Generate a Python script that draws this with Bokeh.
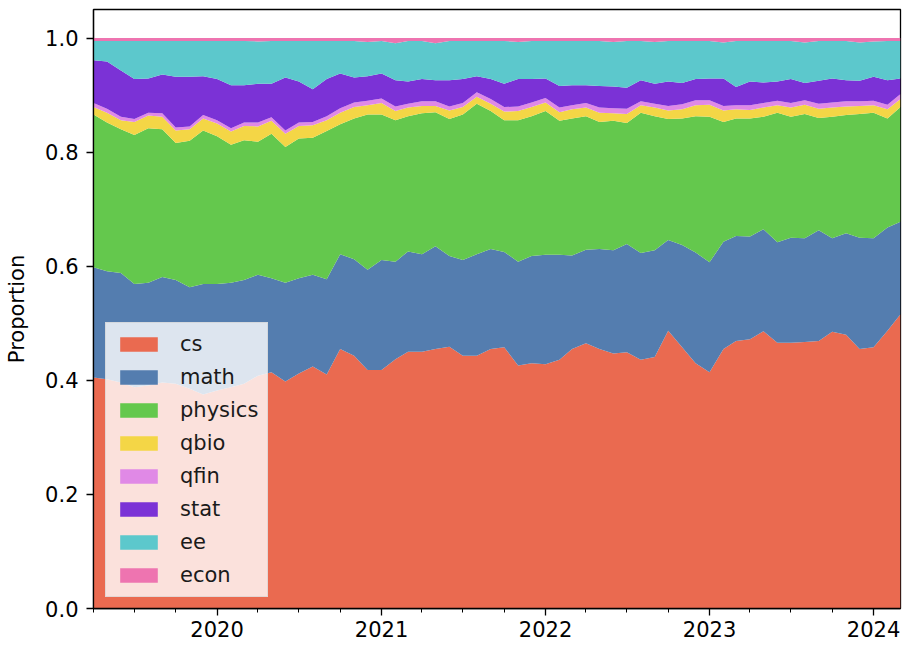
import pandas as pd
from bokeh.plotting import figure
from bokeh.models import ColumnDataSource, Range1d, FixedTicker, DatetimeTickFormatter, NumeralTickFormatter
from bokeh.embed import file_html
from bokeh.resources import INLINE

months = pd.date_range("2019-04-01", "2024-03-01", freq="MS")

categories = ["cs", "math", "physics", "qbio", "qfin", "stat", "ee", "econ"]
colors = ["#EA6A50", "#547DAF", "#64C84D", "#F4D646", "#E089E6", "#7B32D6", "#5CC8CC", "#EE74B0"]

cs = [0.405, 0.402, 0.396, 0.388, 0.391, 0.396, 0.394, 0.385, 0.375, 0.382,
      0.388, 0.394, 0.408, 0.414, 0.398, 0.412, 0.424, 0.410, 0.455, 0.443,
      0.418, 0.418, 0.437, 0.450, 0.450, 0.455, 0.459, 0.443, 0.443, 0.455,
      0.458, 0.426, 0.430, 0.428, 0.436, 0.455, 0.465, 0.455, 0.447, 0.449,
      0.436, 0.441, 0.487, 0.458, 0.430, 0.414, 0.455, 0.469, 0.472, 0.486,
      0.466, 0.466, 0.467, 0.469, 0.485, 0.480, 0.455, 0.458, 0.487, 0.516]
math = [0.193, 0.189, 0.192, 0.181, 0.180, 0.185, 0.182, 0.178, 0.194, 0.187,
        0.183, 0.182, 0.177, 0.165, 0.173, 0.167, 0.161, 0.167, 0.166, 0.169,
        0.176, 0.193, 0.171, 0.176, 0.171, 0.180, 0.159, 0.168, 0.178, 0.175,
        0.167, 0.182, 0.188, 0.192, 0.184, 0.164, 0.164, 0.175, 0.181, 0.190,
        0.187, 0.187, 0.159, 0.179, 0.194, 0.193, 0.188, 0.184, 0.180, 0.179,
        0.176, 0.184, 0.182, 0.194, 0.164, 0.178, 0.195, 0.191, 0.181, 0.162]
physics = [0.268, 0.261, 0.252, 0.261, 0.271, 0.259, 0.240, 0.257, 0.269, 0.259,
           0.242, 0.245, 0.233, 0.253, 0.238, 0.245, 0.240, 0.260, 0.228, 0.247,
           0.272, 0.255, 0.248, 0.237, 0.247, 0.235, 0.240, 0.255, 0.264, 0.242,
           0.231, 0.248, 0.245, 0.252, 0.235, 0.240, 0.234, 0.223, 0.227, 0.212,
           0.246, 0.235, 0.212, 0.222, 0.239, 0.255, 0.210, 0.206, 0.207, 0.197,
           0.227, 0.212, 0.218, 0.197, 0.213, 0.207, 0.217, 0.220, 0.191, 0.201]
qbio = [0.013, 0.017, 0.016, 0.023, 0.022, 0.022, 0.022, 0.020, 0.021, 0.022,
        0.023, 0.025, 0.027, 0.023, 0.023, 0.022, 0.022, 0.019, 0.020, 0.020,
        0.016, 0.020, 0.016, 0.015, 0.013, 0.011, 0.015, 0.013, 0.012, 0.013,
        0.015, 0.016, 0.016, 0.015, 0.015, 0.016, 0.015, 0.016, 0.013, 0.016,
        0.013, 0.015, 0.015, 0.016, 0.019, 0.021, 0.020, 0.016, 0.015, 0.016,
        0.013, 0.016, 0.016, 0.016, 0.016, 0.015, 0.014, 0.013, 0.016, 0.014]
qfin = [0.007, 0.007, 0.006, 0.005, 0.005, 0.006, 0.005, 0.005, 0.006, 0.006,
        0.006, 0.006, 0.007, 0.006, 0.006, 0.006, 0.006, 0.007, 0.008, 0.008,
        0.008, 0.008, 0.008, 0.007, 0.008, 0.008, 0.007, 0.007, 0.008, 0.008,
        0.008, 0.008, 0.008, 0.008, 0.008, 0.007, 0.008, 0.009, 0.009, 0.009,
        0.007, 0.007, 0.008, 0.009, 0.009, 0.008, 0.008, 0.007, 0.008, 0.008,
        0.008, 0.008, 0.008, 0.009, 0.009, 0.009, 0.008, 0.008, 0.008, 0.009]
stat = [0.075, 0.083, 0.081, 0.070, 0.060, 0.068, 0.089, 0.087, 0.068, 0.072,
        0.075, 0.065, 0.068, 0.059, 0.093, 0.072, 0.057, 0.065, 0.061, 0.044,
        0.043, 0.044, 0.046, 0.039, 0.039, 0.037, 0.046, 0.042, 0.028, 0.035,
        0.041, 0.048, 0.041, 0.034, 0.038, 0.035, 0.031, 0.038, 0.038, 0.037,
        0.037, 0.035, 0.043, 0.037, 0.037, 0.038, 0.048, 0.032, 0.042, 0.036,
        0.034, 0.042, 0.030, 0.040, 0.042, 0.037, 0.036, 0.042, 0.043, 0.027]
ee = [0.034, 0.036, 0.052, 0.067, 0.066, 0.059, 0.063, 0.063, 0.062, 0.067,
      0.078, 0.078, 0.074, 0.075, 0.064, 0.071, 0.085, 0.067, 0.057, 0.064,
      0.060, 0.057, 0.065, 0.071, 0.067, 0.065, 0.069, 0.067, 0.062, 0.067,
      0.075, 0.065, 0.067, 0.066, 0.079, 0.078, 0.078, 0.079, 0.078, 0.082,
      0.069, 0.073, 0.071, 0.074, 0.067, 0.066, 0.063, 0.081, 0.071, 0.073,
      0.071, 0.067, 0.071, 0.070, 0.066, 0.069, 0.067, 0.062, 0.069, 0.066]
econ = [0.005, 0.005, 0.005, 0.005, 0.005, 0.005, 0.005, 0.005, 0.005, 0.005,
        0.005, 0.005, 0.006, 0.005, 0.005, 0.005, 0.005, 0.005, 0.005, 0.005,
        0.007, 0.005, 0.009, 0.005, 0.005, 0.009, 0.005, 0.005, 0.005, 0.005,
        0.005, 0.007, 0.005, 0.005, 0.005, 0.005, 0.005, 0.005, 0.007, 0.005,
        0.005, 0.007, 0.005, 0.005, 0.005, 0.005, 0.008, 0.005, 0.005, 0.005,
        0.005, 0.005, 0.008, 0.005, 0.005, 0.005, 0.008, 0.006, 0.005, 0.005]

year_ticks = ["2020-01-01", "2021-01-01", "2022-01-01", "2023-01-01", "2024-01-01"]
y_ticks = [0.0, 0.2, 0.4, 0.6, 0.8, 1.0]

source = ColumnDataSource(dict(date=months, cs=cs, math=math, physics=physics, qbio=qbio,
                               qfin=qfin, stat=stat, ee=ee, econ=econ))

p = figure(width=902, height=645, x_axis_type="datetime", output_backend="svg",
           toolbar_location=None, min_border_left=93, min_border_right=2,
           min_border_top=9, min_border_bottom=37,
           x_range=Range1d(months[0], months[-1]), y_range=Range1d(0, 1.05))

p.varea_stack(stackers=categories, x="date", color=colors, legend_label=categories, source=source)

def ms(s):
    return pd.Timestamp(s).value // 10**6

minor = [ms(d) for d in pd.date_range("2019-04-01", "2024-03-01", freq="QS")]
p.xaxis.ticker = FixedTicker(ticks=[ms(d) for d in year_ticks], minor_ticks=minor)
p.xaxis.formatter = DatetimeTickFormatter(years="%Y", months="%Y", days="%Y", hours="%Y",
                                          minutes="%Y", seconds="%Y", milliseconds="%Y",
                                          minsec="%Y", hourmin="%Y")
p.yaxis.ticker = FixedTicker(ticks=y_ticks, minor_ticks=[])
p.yaxis.formatter = NumeralTickFormatter(format="0.0")
p.yaxis.axis_label = "Proportion"

for ax in (p.xaxis[0], p.yaxis[0]):
    ax.major_label_text_font = "DejaVu Sans"
    ax.major_label_text_font_size = "21px"
    ax.major_label_text_color = "black"
    ax.axis_line_color = "black"
    ax.axis_line_width = 1.3
    ax.major_tick_line_color = "black"
    ax.major_tick_line_width = 1.3
    ax.minor_tick_line_color = "black"
    ax.major_tick_in = 0
    ax.major_tick_out = 7
    ax.minor_tick_in = 0
    ax.minor_tick_out = 4
    ax.axis_label_text_font = "DejaVu Sans"
    ax.axis_label_text_font_size = "21px"
    ax.axis_label_text_font_style = "normal"
    ax.axis_label_text_color = "black"
p.xaxis.major_label_standoff = 5
p.yaxis.major_label_standoff = 8
p.yaxis.axis_label_standoff = 13

p.xgrid.visible = False
p.ygrid.visible = False
p.outline_line_color = "black"
p.outline_line_width = 1.3
p.background_fill_color = "white"
p.border_fill_color = "white"

lg = p.legend[0]
lg.location = (12, 11)
lg.label_text_font = "DejaVu Sans"
lg.label_text_font_size = "21px"
lg.label_text_color = "#1a1a1a"
lg.glyph_width = 47
lg.glyph_height = 18
lg.label_height = 20
lg.spacing = 9
lg.label_standoff = 18
lg.padding = 9
lg.margin = 0
lg.background_fill_color = "white"
lg.background_fill_alpha = 0.8
lg.border_line_color = "#cccccc"
lg.border_line_width = 1

open("out.html", "w").write(file_html(p, INLINE))
